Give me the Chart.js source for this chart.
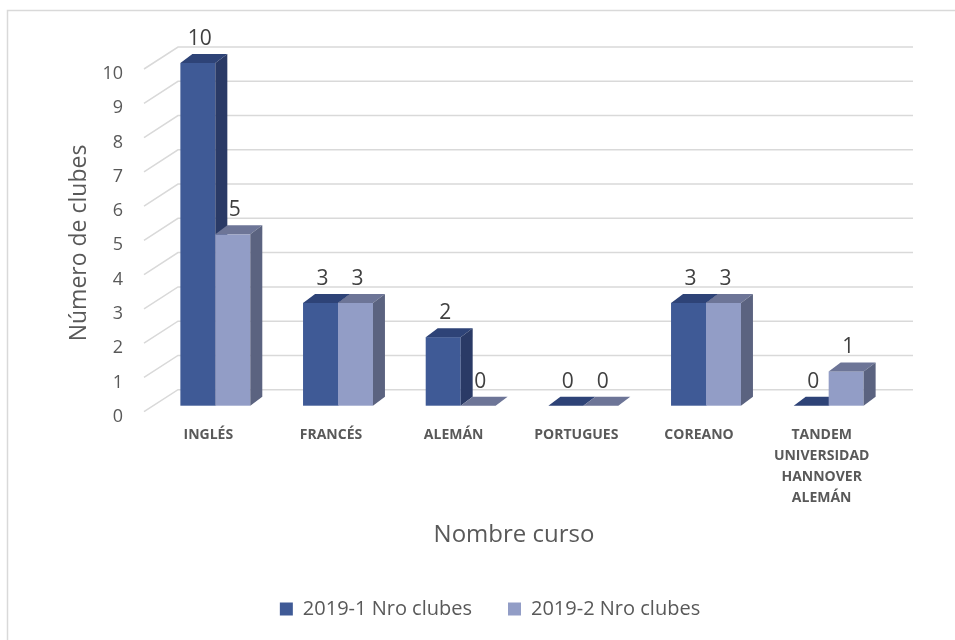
<!DOCTYPE html>
<html>
<head>
<meta charset="utf-8">
<script src="https://cdn.jsdelivr.net/npm/chart.js@4.4.0/dist/chart.umd.min.js"></script>
<style>
  html, body { margin: 0; padding: 0; background: #fff; }
  #contenedor { width: 955px; height: 640px; }
</style>
</head>
<body>
<div id="contenedor"><canvas id="graficoClubes"></canvas></div>
<script>
// Datos del gráfico
const cursos = ['INGLÉS', 'FRANCÉS', 'ALEMÁN', 'PORTUGUES', 'COREANO', ['TANDEM', 'UNIVERSIDAD', 'HANNOVER', 'ALEMÁN']];
const series = ['2019-1 Nro clubes', '2019-2 Nro clubes'];
const clubes2019_1 = [10, 3, 2, 0, 3, 0];
const clubes2019_2 = [5, 3, 0, 0, 3, 1];
const tituloX = 'Nombre curso';
const tituloY = 'Número de clubes';

// Colores de cada cara (frente, tapa, lado)
const coloresFrente = ['#3F5A96', '#929DC6'];
const coloresTapa = ['#2E4377', '#6D7597'];
const coloresLado = ['#2A3A66', '#5B6380'];

const fuente = '"Open Sans", "Noto Sans", sans-serif';
const fondo = { dx: 12, dy: -9 }; // profundidad de las barras

function poligono(ctx, puntos, color) {
    ctx.beginPath();
    ctx.moveTo(puntos[0][0], puntos[0][1]);
    for (let i = 1; i < puntos.length; i++) ctx.lineTo(puntos[i][0], puntos[i][1]);
    ctx.closePath();
    ctx.fillStyle = color;
    ctx.fill();
}

const barras3D = {
    id: 'barras3D',
    beforeDraw(chart) {
        const ctx = chart.ctx;
        ctx.save();
        ctx.strokeStyle = '#D9D9D9';
        ctx.lineWidth = 1.5;
        ctx.strokeRect(7.5, 10.5, 1100, 800);
        ctx.restore();
    },
    beforeDatasetsDraw(chart) {
        // Líneas de la cuadrícula con perspectiva (piso + pared del fondo)
        const { ctx, chartArea, scales } = chart;
        const y = scales.y;
        ctx.save();
        ctx.strokeStyle = '#D9D9D9';
        ctx.lineWidth = 1.5;
        y.ticks.forEach(t => {
            const py = y.getPixelForValue(t.value);
            ctx.beginPath();
            ctx.moveTo(chartArea.left - 10, py + 6);
            ctx.lineTo(chartArea.left + 24, py - 16);
            ctx.lineTo(chartArea.right + 23, py - 16);
            ctx.stroke();
        });
        ctx.restore();
    },
    beforeDatasetDraw() {
        return false; // las barras se dibujan abajo en 3D
    },
    afterDatasetsDraw(chart) {
        const ctx = chart.ctx;
        ctx.save();
        chart.data.datasets.forEach((ds, i) => {
            const meta = chart.getDatasetMeta(i);
            meta.data.forEach((bar, j) => {
                const { x, y, base, width } = bar.getProps(['x', 'y', 'base', 'width'], true);
                const l = x - width / 2;
                const r = x + width / 2;
                ctx.fillStyle = coloresFrente[i];
                ctx.fillRect(l, y, width, base - y);
                poligono(ctx, [[l, y], [r, y], [r + fondo.dx, y + fondo.dy], [l + fondo.dx, y + fondo.dy]], coloresTapa[i]);
                poligono(ctx, [[r, y], [r + fondo.dx, y + fondo.dy], [r + fondo.dx, base + fondo.dy], [r, base]], coloresLado[i]);
            });
        });
        // Etiquetas de datos
        ctx.font = '21px ' + fuente;
        ctx.fillStyle = '#404040';
        ctx.textAlign = 'center';
        ctx.textBaseline = 'middle';
        chart.data.datasets.forEach((ds, i) => {
            const meta = chart.getDatasetMeta(i);
            meta.data.forEach((bar, j) => {
                ctx.fillText(String(ds.data[j]), bar.x + 2, bar.y - 24);
            });
        });
        ctx.restore();
    },
    afterDraw(chart) {
        // Títulos de los ejes
        const ctx = chart.ctx;
        ctx.save();
        ctx.fillStyle = '#595959';
        ctx.textAlign = 'center';
        ctx.textBaseline = 'middle';
        ctx.font = '24px ' + fuente;
        ctx.fillText(tituloX, 514, 535);
        ctx.translate(79, 243);
        ctx.rotate(-Math.PI / 2);
        ctx.font = '23px ' + fuente;
        ctx.fillText(tituloY, 0, 0);
        ctx.restore();
    }
};

const config = {
    type: 'bar',
    data: {
        labels: cursos,
        datasets: [
            { label: series[0], data: clubes2019_1, backgroundColor: coloresFrente[0] },
            { label: series[1], data: clubes2019_2, backgroundColor: coloresFrente[1] }
        ]
    },
    options: {
        responsive: true,
        maintainAspectRatio: false,
        animation: false,
        categoryPercentage: 0.57,
        barPercentage: 1.0,
        layout: { padding: { top: 63, right: 0, left: 25, bottom: 11 } },
        plugins: {
            legend: {
                position: 'bottom',
                labels: {
                    boxWidth: 13,
                    boxHeight: 13,
                    padding: 36,
                    color: '#595959',
                    font: { family: fuente, size: 20 }
                }
            },
            tooltip: { enabled: false }
        },
        scales: {
            x: {
                grid: { display: false, drawTicks: false },
                border: { display: false },
                ticks: {
                    padding: 19,
                    labelOffset: -7,
                    maxRotation: 0,
                    autoSkip: false,
                    color: '#595959',
                    font: { family: fuente, size: 14, weight: 'bold', lineHeight: 1.5 }
                },
                afterFit(s) { s.height = 157.3; }
            },
            y: {
                min: 0,
                max: 10,
                grid: { display: false, drawTicks: false },
                border: { display: false },
                ticks: {
                    stepSize: 1,
                    padding: 31,
                    labelOffset: 11,
                    color: '#595959',
                    font: { family: fuente, size: 18 }
                },
                afterFit(s) { s.width = 129; }
            },
            derecha: {
                position: 'right',
                grid: { display: false, drawTicks: false },
                border: { display: false },
                ticks: { display: false },
                afterFit(s) { s.width = 65; }
            }
        }
    },
    plugins: [barras3D]
};

new Chart(document.querySelector('#graficoClubes'), config);
</script>
</body>
</html>
